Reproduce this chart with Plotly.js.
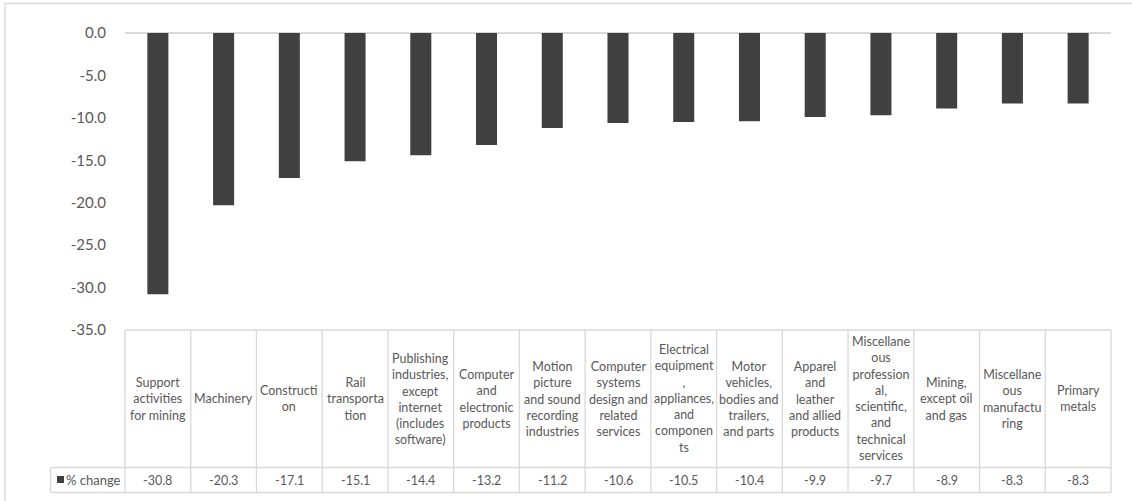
<!DOCTYPE html>
<html>
<head>
<meta charset="utf-8">
<script src="https://cdn.plot.ly/plotly-3.0.1.min.js"></script>
<style>
html,body{margin:0;padding:0;background:#fff;}
#chart{width:1132px;height:501px;}
</style>
</head>
<body>
<div id="chart"></div>
<script>
// ---- data ----
const categories = [
  "Support activities for mining",
  "Machinery",
  "Construction",
  "Rail transportation",
  "Publishing industries, except internet (includes software)",
  "Computer and electronic products",
  "Motion picture and sound recording industries",
  "Computer systems design and related services",
  "Electrical equipment, appliances, and components",
  "Motor vehicles, bodies and trailers, and parts",
  "Apparel and leather and allied products",
  "Miscellaneous professional, scientific, and technical services",
  "Mining, except oil and gas",
  "Miscellaneous manufacturing",
  "Primary metals"
];
const tableLabels = [
  "Support<br>activities<br>for mining",
  "Machinery",
  "Constructi<br>on",
  "Rail<br>transporta<br>tion",
  "Publishing<br>industries,<br>except<br>internet<br>(includes<br>software)",
  "Computer<br>and<br>electronic<br>products",
  "Motion<br>picture<br>and sound<br>recording<br>industries",
  "Computer<br>systems<br>design and<br>related<br>services",
  "Electrical<br>equipment<br>,<br>appliances,<br>and<br>componen<br>ts",
  "Motor<br>vehicles,<br>bodies and<br>trailers,<br>and parts",
  "Apparel<br>and<br>leather<br>and allied<br>products",
  "Miscellane<br>ous<br>profession<br>al,<br>scientific,<br>and<br>technical<br>services",
  "Mining,<br>except oil<br>and gas",
  "Miscellane<br>ous<br>manufactu<br>ring",
  "Primary<br>metals"
];
const pctChange = [-30.8, -20.3, -17.1, -15.1, -14.4, -13.2, -11.2, -10.6, -10.5, -10.4, -9.9, -9.7, -8.9, -8.3, -8.3];
const seriesName = "% change";
const yTickVals = [0, -5, -10, -15, -20, -25, -30, -35];
const yTickText = yTickVals.map(v => v.toFixed(1));
const titleText = "(Percent change from 2019 to 2020)";

// ---- layout helpers (pixel geometry of the frame) ----
const L = 125, R = 1111, T = 33, B = 330;
const W = R - L, H = B - T;
const px2x = px => (px - L) / W;
const px2y = py => (B - py) / H;

const gridColor = "#d9d9d9";
const textColor = "#595959";
const barColor = "#404040";
const font = "Lato, 'Open Sans', sans-serif";

const n = categories.length;
const shapes = [];
const annotations = [];

// outer chart border (right and bottom edges fall outside the picture)
shapes.push({type:"rect", xref:"paper", yref:"paper", x0:px2x(5), x1:px2x(1140), y0:px2y(510), y1:px2y(3.5),
  line:{color:gridColor, width:1.3}, fillcolor:"rgba(0,0,0,0)", layer:"below"});

// table geometry
const rowTop = B, rowMid = 467.5, rowBot = 492.5, legendLeft = 50.5;
shapes.push({type:"line", xref:"paper", yref:"paper", x0:0, x1:1, y0:px2y(rowTop), y1:px2y(rowTop), line:{color:gridColor, width:1.3}});
shapes.push({type:"line", xref:"paper", yref:"paper", x0:px2x(legendLeft), x1:1, y0:px2y(rowMid), y1:px2y(rowMid), line:{color:gridColor, width:1.3}});
shapes.push({type:"line", xref:"paper", yref:"paper", x0:px2x(legendLeft), x1:1, y0:px2y(rowBot), y1:px2y(rowBot), line:{color:gridColor, width:1.3}});
shapes.push({type:"line", xref:"paper", yref:"paper", x0:px2x(legendLeft), x1:px2x(legendLeft), y0:px2y(rowMid), y1:px2y(rowBot), line:{color:gridColor, width:1.3}});
for (let k = 0; k <= n; k++) {
  const xp = k / n;
  shapes.push({type:"line", xref:"paper", yref:"paper", x0:xp, x1:xp, y0:px2y(rowTop), y1:px2y(rowBot), line:{color:gridColor, width:1.3}});
}

for (let i = 0; i < n; i++) {
  annotations.push({xref:"x", yref:"paper", x:categories[i], y:px2y((rowTop + rowMid) / 2),
    text:tableLabels[i], showarrow:false, xanchor:"center", yanchor:"middle", align:"center",
    font:{family:font, size:12.5, color:textColor}});
  annotations.push({xref:"x", yref:"paper", x:categories[i], y:px2y((rowMid + rowBot) / 2),
    text:pctChange[i].toFixed(1), showarrow:false, xanchor:"center", yanchor:"middle",
    font:{family:font, size:12.5, color:textColor}});
}
// legend key cell: swatch + series name
shapes.push({type:"rect", xref:"paper", yref:"paper", x0:px2x(57), x1:px2x(64), y0:px2y(483), y1:px2y(476),
  fillcolor:barColor, line:{width:0}});
annotations.push({xref:"paper", yref:"paper", x:px2x(64), y:px2y((rowMid + rowBot) / 2),
  text:seriesName, showarrow:false, xanchor:"left", yanchor:"middle",
  font:{family:font, size:13, color:textColor}});

// chart title (sits above the visible frame in the reference; only its descenders show)
annotations.push({xref:"paper", yref:"paper", x:px2x(576), y:px2y(1), xanchor:"center", yanchor:"bottom",
  text:titleText, showarrow:false,
  font:{family:"'Liberation Serif', 'Times New Roman', serif", size:30, color:"#000"}});

const trace = {
  type:"bar", x:categories, y:pctChange, name:seriesName,
  marker:{color:barColor}, width:0.32, hoverinfo:"x+y"
};

const layout = {
  width:1132, height:501,
  margin:{l:L, r:1132 - R, t:T, b:501 - B, pad:0},
  paper_bgcolor:"#fff", plot_bgcolor:"#fff",
  showlegend:false,
  xaxis:{type:"category", range:[-0.5, n - 0.5], showticklabels:false, showgrid:false, zeroline:false, showline:false, ticks:""},
  yaxis:{range:[-35, 0], tickvals:yTickVals, ticktext:yTickText, showgrid:false,
    zeroline:true, zerolinecolor:gridColor, zerolinewidth:1.5, showline:false,
    ticks:"outside", ticklen:15, tickcolor:"rgba(0,0,0,0)",
    tickfont:{family:font, size:15, color:textColor}},
  shapes:shapes,
  annotations:annotations
};

Plotly.newPlot("chart", [trace], layout, {displayModeBar:false, staticPlot:true});
</script>
</body>
</html>
